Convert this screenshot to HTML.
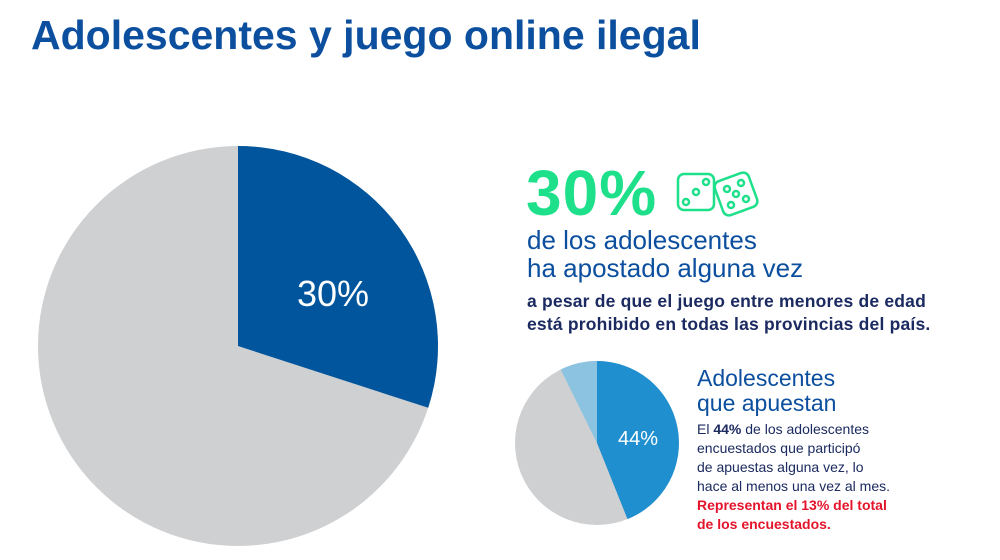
<!DOCTYPE html>
<html><head><meta charset="utf-8"><style>
body{margin:0;width:1000px;height:560px;background:#fff;overflow:hidden;position:relative;font-family:"Liberation Sans",sans-serif}
.a{position:absolute;white-space:nowrap}
</style></head><body>
<div class="a" style="left:31px;top:12px;font-size:41px;font-weight:bold;color:#0b4f9e;letter-spacing:0px">Adolescentes y juego online ilegal</div>
<svg class="a" style="left:0;top:0" width="1000" height="560">
<circle cx="238" cy="346" r="200" fill="#cfd0d1"/>
<path d="M238,346 L238,146 A200,200 0 0 1 428.2,407.8 Z" fill="#00559c"/>
<text x="333" y="306" font-size="36" fill="#fff" text-anchor="middle" font-family="Liberation Sans">30%</text>
<circle cx="597" cy="443" r="82" fill="#cfd0d1"/>
<path d="M597,443 L597,361 A82,82 0 0 1 627.5,519.1 Z" fill="#1f8fcf"/>
<path d="M597,443 L560.7,369.5 A82,82 0 0 1 597,361 Z" fill="#8cc3e0"/>
<text x="638" y="445" font-size="20" fill="#fff" text-anchor="middle" font-family="Liberation Sans">44%</text>
<g fill="none" stroke="#1ee08a" stroke-width="2.5">
<rect x="678" y="174" width="36" height="36" rx="6"/>
<circle cx="686" cy="202" r="3"/><circle cx="696" cy="192" r="3"/><circle cx="706" cy="182" r="3"/>
<rect x="718" y="176" width="36" height="36" rx="6" transform="rotate(-20 736 194)"/>
<circle cx="736" cy="194" r="3"/><circle cx="727" cy="189" r="3"/><circle cx="741" cy="183" r="3"/><circle cx="731" cy="205" r="3"/><circle cx="746" cy="199" r="3"/>
</g>
</svg>
<div class="a" style="left:526px;top:156px;font-size:64px;font-weight:bold;color:#1ee08a;letter-spacing:1px">30%</div>
<div class="a" style="left:527px;top:226px;font-size:26px;line-height:28px;color:#0b4f9e">de los adolescentes<br>ha apostado alguna vez</div>
<div class="a" style="left:527px;top:290px;font-size:17.5px;line-height:23px;font-weight:bold;color:#1b2a60;letter-spacing:0.2px">a pesar de que el juego entre menores de edad<br>está prohibido en todas las provincias del país.</div>
<div class="a" style="left:697px;top:366px;font-size:23px;line-height:25px;color:#0b4f9e">Adolescentes<br>que apuestan</div>
<div class="a" style="left:697px;top:420px;font-size:14px;line-height:19px;color:#1b2a60">El <b>44%</b> de los adolescentes<br>encuestados que participó<br>de apuestas alguna vez, lo<br>hace al menos una vez al mes.<br><b style="color:#e4142b">Representan el 13% del total<br>de los encuestados.</b></div>
</body></html>
